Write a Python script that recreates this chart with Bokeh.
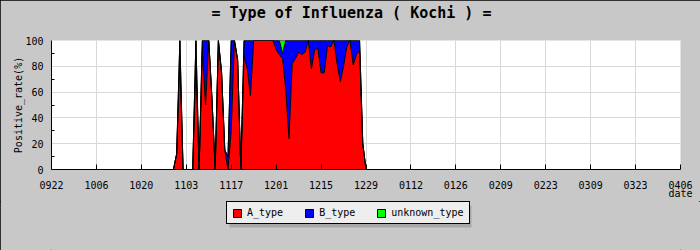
import numpy as np
from bokeh.plotting import figure
from bokeh.layouts import column
from bokeh.models import (ColumnDataSource, FixedTicker, Range1d, Legend, LegendItem,
                          Title, BoxAnnotation)
from bokeh.embed import file_html
from bokeh.resources import INLINE

# ---- data ----
tick_labels = ["0922", "1006", "1020", "1103", "1117", "1201", "1215", "1229",
               "0112", "0126", "0209", "0223", "0309", "0323", "0406"]
days_since_0922 = list(range(37, 99))
A_type = [0, 0, 12, 86, 0, 0, 0, 0, 84, 0,
          92, 50, 100, 55, 0, 100, 75, 15, 0, 30,
          100, 85, 0, 88, 78, 57,
          100, 100, 100, 100, 100, 100, 100,
          93, 89, 86, 62, 24, 82, 86, 91, 89, 91,
          100, 78, 93, 94, 75, 75, 96, 95, 100, 82,
          68, 80, 95, 100, 81, 89, 92, 20, 0]
B_type = [0, 0, 0, 14, 0, 0, 0, 0, 16, 0,
          8, 50, 0, 0, 0, 0, 0, 0, 10, 70,
          0, 0, 0, 12, 22, 43,
          0, 0, 0, 0, 0, 0, 0,
          7, 11, 4, 38, 76, 18, 14, 9, 11, 9,
          0, 22, 7, 6, 25, 25, 4, 5, 0, 18,
          32, 20, 5, 0, 19, 11, 8, 0, 0]
unknown_type = [0, 0, 0, 0, 0, 0, 0, 0, 0, 0,
                0, 0, 0, 0, 0, 0, 0, 0, 0, 0,
                0, 0, 0, 0, 0, 0,
                0, 0, 0, 0, 0, 0, 0,
                0, 0, 10, 0, 0, 0, 0, 0, 0, 0,
                0, 0, 0, 0, 0, 0, 0, 0, 0, 0,
                0, 0, 0, 0, 0, 0, 0, 0, 0]
series_names = ["A_type", "B_type", "unknown_type"]

RED, BLUE, GREEN = "#ff0000", "#0000ff", "#00ff00"
COLORS = [RED, BLUE, GREEN]
FONT = "DejaVu Sans Mono"
BG = "#c8c8c8"

a = np.array(A_type, dtype=float)
b = np.array(B_type, dtype=float)
u = np.array(unknown_type, dtype=float)
src = ColumnDataSource(dict(day=days_since_0922, A=a, B=b, U=u,
                            s1=a, s2=a + b, s3=a + b + u))

span_days = 14 * (len(tick_labels) - 1)
p = figure(width=700, height=201, output_backend="svg", toolbar_location=None,
           x_range=Range1d(0, span_days), y_range=Range1d(0, 100),
           min_border_left=51, min_border_right=20, min_border_top=40,
           min_border_bottom=31, background_fill_color="white",
           border_fill_color=BG, outline_line_color=None,
           title="= Type of Influenza ( Kochi ) =")

p.title.text_font = FONT
p.title.text_font_size = "15px"
p.title.text_font_style = "bold"
p.title.text_color = "black"
p.title.align = "left"
p.title.offset = 160
p.title.standoff = 0
# spacer between the title and the plot area
p.add_layout(Title(text=" ", text_font=FONT, text_font_size="10px", standoff=6), "above")

# stacked areas
p.varea_stack(["A", "B", "U"], x="day", color=COLORS, source=src)
for col in ["s1", "s2", "s3"]:
    p.line("day", col, source=src, line_color="black", line_width=1)

# axes
xt = [14 * i for i in range(len(tick_labels))]
p.xaxis.ticker = FixedTicker(ticks=xt, minor_ticks=[])
p.xaxis.major_label_overrides = {t: lab for t, lab in zip(xt, tick_labels)}
p.xgrid.ticker = FixedTicker(ticks=xt, minor_ticks=[])
yt = [0, 20, 40, 60, 80, 100]
p.yaxis.ticker = FixedTicker(ticks=yt, minor_ticks=[10, 30, 50, 70, 90])
p.ygrid.ticker = FixedTicker(ticks=yt, minor_ticks=[])
for g in (p.xgrid, p.ygrid):
    g.grid_line_color = "#d8d8d8"
    g.grid_line_width = 1

for ax in (p.xaxis, p.yaxis):
    ax.axis_line_color = "black"
    ax.axis_line_width = 1
    ax.major_tick_out = 0
    ax.minor_tick_out = 0
    ax.major_tick_line_color = "black"
    ax.minor_tick_line_color = "black"
    ax.major_label_text_font = FONT
    ax.major_label_text_font_size = "10px"
    ax.major_label_text_color = "black"
    ax.axis_label_text_font = FONT
    ax.axis_label_text_font_size = "10px"
    ax.axis_label_text_font_style = "normal"
    ax.axis_label_text_color = "black"
p.xaxis.major_tick_in = 5
p.xaxis.major_label_standoff = 11
p.yaxis.major_tick_in = 0
p.yaxis.minor_tick_in = 3
p.yaxis.major_label_standoff = 8
p.yaxis.axis_label = "Positive_rate(%)"
p.yaxis.axis_label_standoff = -2
p.xaxis.axis_label_align = "end"
p.xaxis.axis_label = "date"
p.xaxis.axis_label_standoff = -4

# ---- legend strip below the chart (frame aligned with the chart, 1 unit = 1 px) ----
lf = figure(width=700, height=49, output_backend="svg", toolbar_location=None,
            x_range=Range1d(51, 680), y_range=Range1d(0, 49),
            x_axis_type=None, y_axis_type=None,
            min_border_left=51, min_border_right=20, min_border_top=0, min_border_bottom=0,
            background_fill_color=BG, border_fill_color=BG, outline_line_color=None)
lf.xgrid.visible = False
lf.ygrid.visible = False

nan = [float("nan")]
proxies = [lf.quad(left=nan, right=nan, top=nan, bottom=nan, fill_color=c,
                   line_color="black") for c in COLORS]

lf.add_layout(BoxAnnotation(left=229, right=471, bottom=23, top=45,
                            fill_color="#a8a8a8", fill_alpha=1, line_color=None))
legend = Legend(items=[LegendItem(label=n, renderers=[r]) for n, r in zip(series_names, proxies)],
                location=(175, 26), orientation="horizontal",
                background_fill_color="#eeeeee", background_fill_alpha=1,
                border_line_color="black", border_line_width=1, border_line_alpha=1,
                label_text_font=FONT, label_text_font_size="10px",
                label_text_color="black", glyph_width=10, glyph_height=10,
                label_height=10, label_standoff=5, spacing=21, padding=5, margin=0)
lf.add_layout(legend)

layout = column(p, lf, spacing=0)
try:
    layout.styles = {"background-color": BG, "outline": "1px solid black",
                     "outline-offset": "-1px"}
except Exception:
    pass

open("out.html", "w").write(file_html(layout, INLINE))
